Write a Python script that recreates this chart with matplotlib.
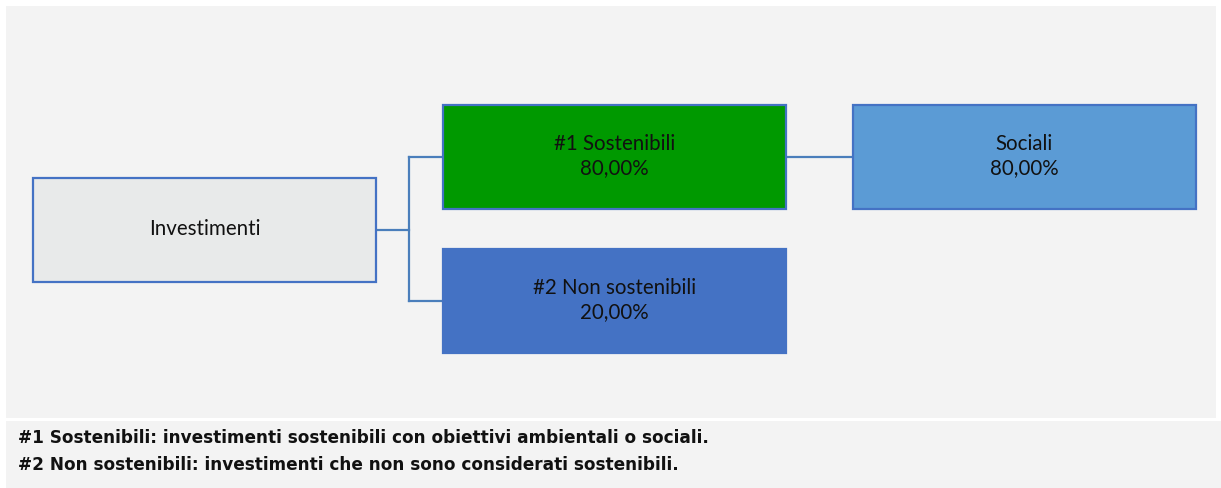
import matplotlib.pyplot as plt
from matplotlib.patches import Rectangle

# data
root_label = 'Investimenti'
level1_labels = ['#1 Sostenibili', '#2 Non sostenibili']
level1_values = ['80,00%', '20,00%']
level2_labels = ['Sociali']
level2_values = ['80,00%']
notes = [
    '#1 Sostenibili: investimenti sostenibili con obiettivi ambientali o sociali.',
    '#2 Non sostenibili: investimenti che non sono considerati sostenibili.',
]

# layout (pixel coords, y going down)
W, H = 1221, 488
box_w, box_h = 343, 104
root_xy = (33, 178)
level1_xy = [(443, 105), (443, 249)]
level2_xy = [(853, 105)]
fills = {'root': '#E8EAEA', 'l1': ['#009900', '#4472C4'], 'l2': ['#5B9BD5']}
edge = '#4472C4'
line_c = '#4A7EBB'
box_font = ['Lato', 'DejaVu Sans']

fig = plt.figure(figsize=(W / 100, H / 100), dpi=100)
ax = fig.add_axes([0, 0, 1, 1])
ax.set_xlim(0, W)
ax.set_ylim(H, 0)
ax.axis('off')

# background panels
ax.add_patch(Rectangle((6, 6), 1210, 412, facecolor='#F3F3F3', edgecolor='none'))
ax.add_patch(Rectangle((6, 421), 1215, 67, facecolor='#F3F3F3', edgecolor='none'))


def draw_box(xy, fill, lines, ec=edge):
    x, y = xy
    ax.add_patch(Rectangle((x, y), box_w, box_h, facecolor=fill,
                           edgecolor=ec, linewidth=1.6, zorder=3))
    cy = y + box_h / 2 - 1
    n = len(lines)
    for i, t in enumerate(lines):
        ty = cy + (i - (n - 1) / 2) * 25
        ax.text(x + box_w / 2, ty, t, ha='center', va='center',
                fontsize=14.8, family=box_font, color='#111111', zorder=4)


# connectors
rx = root_xy[0] + box_w
ry = root_xy[1] + box_h / 2
bx = 409
tops = [xy[1] + box_h / 2 for xy in level1_xy]
ax.plot([rx, bx], [ry, ry], color=line_c, lw=1.6, zorder=2)
ax.plot([bx, bx], [min(tops), max(tops)], color=line_c, lw=1.6, zorder=2)
for ty in tops:
    ax.plot([bx, level1_xy[0][0]], [ty, ty], color=line_c, lw=1.6, zorder=2)
ax.plot([level1_xy[0][0] + box_w, level2_xy[0][0]], [tops[0], tops[0]],
        color=line_c, lw=1.6, zorder=2)

draw_box(root_xy, fills['root'], [root_label])
for i, xy in enumerate(level1_xy):
    draw_box(xy, fills['l1'][i], [level1_labels[i], level1_values[i]],
             ec=edge if i == 0 else fills['l1'][i])
for i, xy in enumerate(level2_xy):
    draw_box(xy, fills['l2'][i], [level2_labels[i], level2_values[i]])

# footnotes
for i, t in enumerate(notes):
    ax.text(18, 438 + i * 27, t, ha='left', va='center', fontsize=12.2,
            fontweight='bold', family=['DejaVu Sans'], color='#111111')

fig.savefig('out.png', dpi=100, facecolor='white')
